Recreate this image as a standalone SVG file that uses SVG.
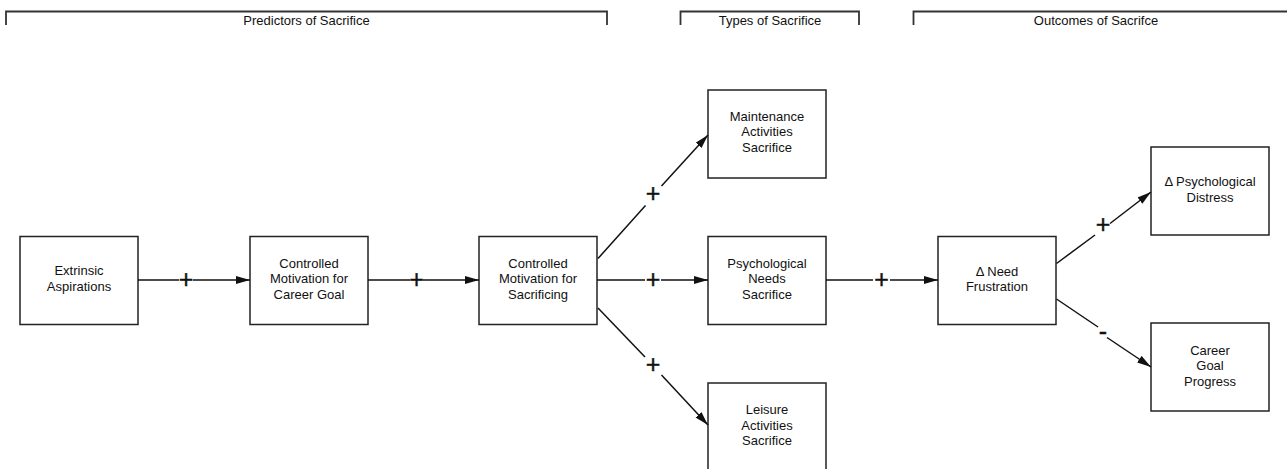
<svg xmlns="http://www.w3.org/2000/svg" width="1287" height="469" viewBox="0 0 1287 469">
<defs>
<marker id="ah" markerUnits="userSpaceOnUse" markerWidth="16" markerHeight="10" refX="14" refY="4" orient="auto">
<path d="M0,0 L14,4 L0,8 Z" fill="#111"/>
</marker>
<style>
.box{fill:#fff;stroke:#222;stroke-width:1.5}
.t{font-family:"Liberation Sans",Arial,sans-serif;font-size:13px;fill:#111;text-anchor:middle}
.c{stroke:#111;stroke-width:1.5;fill:none}
.p{font-family:"Liberation Sans",Arial,sans-serif;font-size:25px;fill:#111;stroke:#111;stroke-width:0.4;text-anchor:middle}
.br{stroke:#333;stroke-width:1.8;fill:none}
</style>
</defs>
<rect width="1287" height="469" fill="#fff"/>
<g id="brackets">
<path class="br" d="M6,25 V11.5 H607 V25"/>
<text class="t" x="306.5" y="24.5">Predictors of Sacrifice</text>
<path class="br" d="M680.5,25 V11.5 H859 V25"/>
<text class="t" x="770" y="24.5">Types of Sacrifice</text>
<path class="br" d="M913.5,25 V11.5 H1290"/>
<text class="t" x="1096" y="24.5">Outcomes of Sacrifce</text>
</g>
<g id="n-extrinsic"><rect class="box" x="20" y="236.5" width="118" height="88"/>
<text class="t" x="79" y="274.5">Extrinsic</text><text class="t" x="79" y="290.5">Aspirations</text></g>
<g id="n-cmcg"><rect class="box" x="250" y="236.5" width="118" height="88"/>
<text class="t" x="309" y="267.5">Controlled</text><text class="t" x="309" y="283">Motivation for</text><text class="t" x="309" y="298.5">Career Goal</text></g>
<g id="n-cms"><rect class="box" x="479" y="236.5" width="118" height="88"/>
<text class="t" x="538" y="267.5">Controlled</text><text class="t" x="538" y="283">Motivation for</text><text class="t" x="538" y="298.5">Sacrificing</text></g>
<g id="n-mas"><rect class="box" x="708" y="90" width="118" height="88"/>
<text class="t" x="767" y="120.5">Maintenance</text><text class="t" x="767" y="136">Activities</text><text class="t" x="767" y="151.5">Sacrifice</text></g>
<g id="n-pns"><rect class="box" x="708" y="236.5" width="118" height="88"/>
<text class="t" x="767" y="267.5">Psychological</text><text class="t" x="767" y="283">Needs</text><text class="t" x="767" y="298.5">Sacrifice</text></g>
<g id="n-las"><rect class="box" x="708" y="383" width="118" height="88"/>
<text class="t" x="767" y="414">Leisure</text><text class="t" x="767" y="429.5">Activities</text><text class="t" x="767" y="445">Sacrifice</text></g>
<g id="n-nf"><rect class="box" x="938" y="236.5" width="118" height="88"/>
<text class="t" x="997" y="275.5">Δ Need</text><text class="t" x="997" y="291">Frustration</text></g>
<g id="n-pd"><rect class="box" x="1151" y="147" width="118" height="88"/>
<text class="t" x="1210" y="186">Δ Psychological</text><text class="t" x="1210" y="201.5">Distress</text></g>
<g id="n-cgp"><rect class="box" x="1151" y="323" width="118" height="88"/>
<text class="t" x="1210" y="354.5">Career</text><text class="t" x="1210" y="370">Goal</text><text class="t" x="1210" y="385.5">Progress</text></g>
<g id="connectors">
<path class="c" d="M138,280 H179"/><path class="c" d="M193,280 H250" marker-end="url(#ah)"/>
<text class="p" x="186" y="288">+</text>
<path class="c" d="M368,280 H410"/><path class="c" d="M423,280 H479" marker-end="url(#ah)"/>
<text class="p" x="416.5" y="288">+</text>
<path class="c" d="M597,280 H645"/><path class="c" d="M661,280 H708" marker-end="url(#ah)"/>
<text class="p" x="653" y="288">+</text>
<path class="c" d="M826,280 H873"/><path class="c" d="M890,280 H938" marker-end="url(#ah)"/>
<text class="p" x="881.5" y="288">+</text>
<path class="c" d="M598,258.5 L645.5,205.5"/><path class="c" d="M661.5,186 L708,135" marker-end="url(#ah)"/>
<text class="p" x="653" y="201.5">+</text>
<path class="c" d="M598,308 L645,357"/><path class="c" d="M661.5,375 L708,425" marker-end="url(#ah)"/>
<text class="p" x="653" y="372.5">+</text>
<path class="c" d="M1056.5,263.5 L1095,235"/><path class="c" d="M1110,223.5 L1151,192" marker-end="url(#ah)"/>
<text class="p" x="1103" y="233">+</text>
<path class="c" d="M1056.5,299 L1098,327"/><path class="c" d="M1107,337.5 L1151,367" marker-end="url(#ah)"/>
<text class="p" x="1103" y="340">-</text>
</g>
</svg>
